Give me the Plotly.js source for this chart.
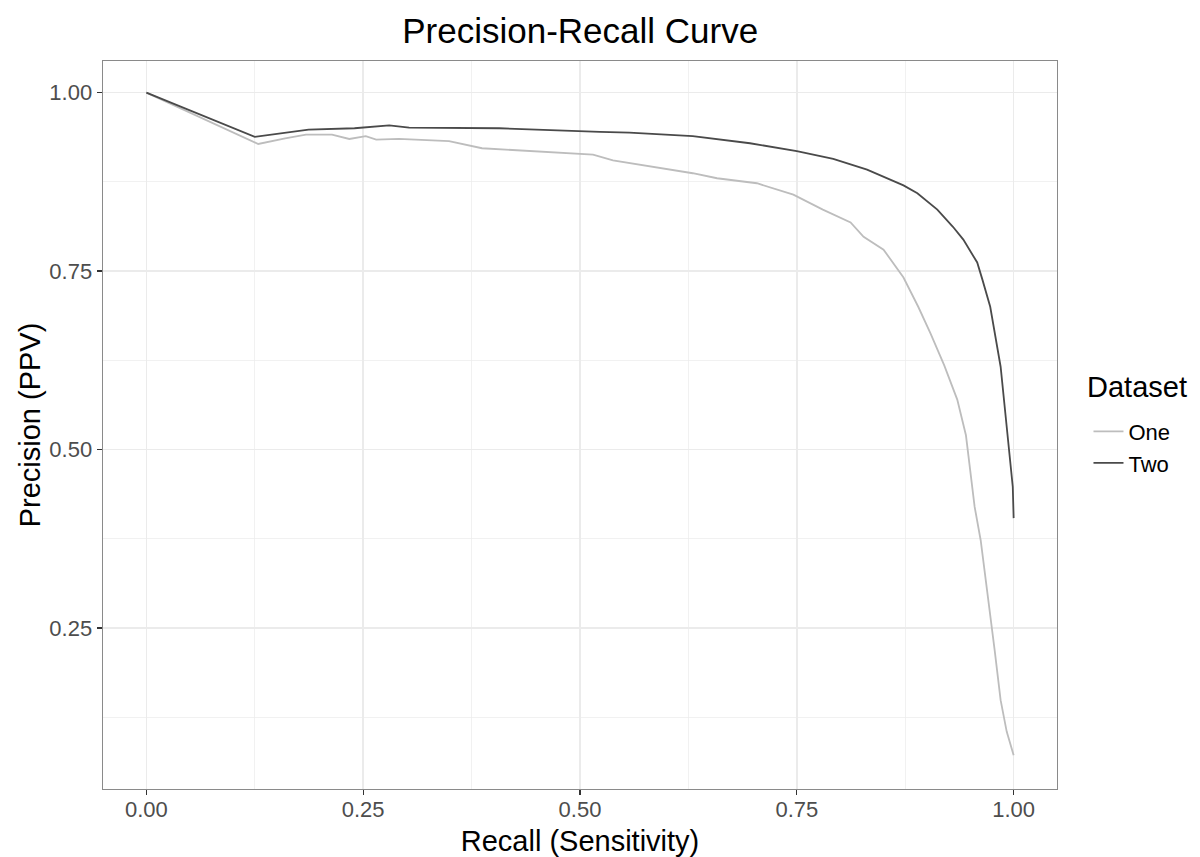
<!DOCTYPE html>
<html>
<head>
<meta charset="utf-8">
<script src="https://cdn.plot.ly/plotly-3.0.1.min.js"></script>
<style>html,body{margin:0;padding:0;background:#fff;}#chart{width:1200px;height:857px;}</style>
</head>
<body>
<div id="chart"></div>
<script>
// Dataset "One" (light grey)
var recallOne = [0.000, 0.129, 0.160, 0.184, 0.214, 0.234, 0.253, 0.265, 0.291, 0.349, 0.387, 0.445, 0.503, 0.515, 0.538, 0.592, 0.630, 0.658, 0.704, 0.746, 0.780, 0.812, 0.827, 0.850, 0.873, 0.890, 0.904, 0.920, 0.935, 0.945, 0.950, 0.955, 0.962, 0.971, 0.978, 0.985, 0.992, 1.000];
var precisionOne = [1.000, 0.928, 0.936, 0.941, 0.941, 0.935, 0.939, 0.934, 0.935, 0.932, 0.922, 0.918, 0.914, 0.913, 0.905, 0.894, 0.887, 0.880, 0.873, 0.857, 0.836, 0.818, 0.798, 0.780, 0.741, 0.700, 0.663, 0.618, 0.570, 0.520, 0.470, 0.420, 0.373, 0.289, 0.220, 0.149, 0.105, 0.072];

// Dataset "Two" (dark grey)
var recallTwo = [0.000, 0.125, 0.187, 0.240, 0.280, 0.303, 0.407, 0.465, 0.523, 0.557, 0.630, 0.696, 0.750, 0.792, 0.831, 0.873, 0.889, 0.912, 0.930, 0.942, 0.958, 0.964, 0.973, 0.985, 0.993, 0.999, 1.000];
var precisionTwo = [1.000, 0.938, 0.948, 0.950, 0.954, 0.951, 0.950, 0.947, 0.945, 0.944, 0.939, 0.929, 0.918, 0.907, 0.892, 0.870, 0.859, 0.836, 0.812, 0.794, 0.762, 0.738, 0.700, 0.616, 0.523, 0.448, 0.404];

var seriesNames = ["One", "Two"];
var legendTitle = "Dataset";

var font = "Liberation Sans, Arial, sans-serif";

var traces = [
  {x: recallOne, y: precisionOne, name: seriesNames[0], type: "scatter", mode: "lines",
   line: {color: "#bdbdbd", width: 1.8}},
  {x: recallTwo, y: precisionTwo, name: seriesNames[1], type: "scatter", mode: "lines",
   line: {color: "#4a4a4a", width: 1.8}}
];

var gridCol = "#ebebeb";
function axisBase(range, titleText, standoff, labelStandoff) {
  return {
    range: range, tickmode: "linear", tick0: 0, dtick: 0.25, tickformat: ".2f",
    ticks: "outside", ticklen: 5, tickcolor: "#333", tickwidth: 1.2,
    ticklabelstandoff: labelStandoff,
    tickfont: {size: 22, color: "#4d4d4d", family: font},
    showgrid: true, gridcolor: gridCol, gridwidth: 1.4,
    minor: {tick0: 0, dtick: 0.125, showgrid: true, gridcolor: gridCol, gridwidth: 0.7, ticks: ""},
    zeroline: false, showline: true, linecolor: "#8a8a8a", linewidth: 1.4, mirror: true,
    title: {text: titleText, font: {size: 29, color: "#000", family: font}, standoff: standoff}
  };
}

var layout = {
  width: 1200, height: 857,
  paper_bgcolor: "#fff", plot_bgcolor: "#fff",
  margin: {l: 103, r: 143, t: 61, b: 68},
  font: {family: font, color: "#000"},
  title: {text: "Precision-Recall Curve", font: {size: 35, family: font, color: "#000"},
          x: 0.4835, xanchor: "center", yref: "container", y: 0.964, yanchor: "middle"},
  xaxis: axisBase([-0.05, 1.05], "Recall (Sensitivity)", 11, -5),
  yaxis: axisBase([0.0246, 1.0442], "Precision (PPV)", 0, 0),
  showlegend: true,
  legend: {
    x: 1.033, xanchor: "left", y: 0.469, yanchor: "middle",
    font: {size: 22, color: "#000", family: font},
    bgcolor: "rgba(0,0,0,0)", tracegroupgap: 0
  },
  annotations: [{
    text: legendTitle, xref: "paper", yref: "paper", x: 1.0297, xanchor: "left",
    y: 0.552, yanchor: "middle", showarrow: false,
    font: {size: 29, color: "#000", family: font}
  }]
};

Plotly.newPlot("chart", traces, layout, {displayModeBar: false, staticPlot: true});
</script>
</body>
</html>
